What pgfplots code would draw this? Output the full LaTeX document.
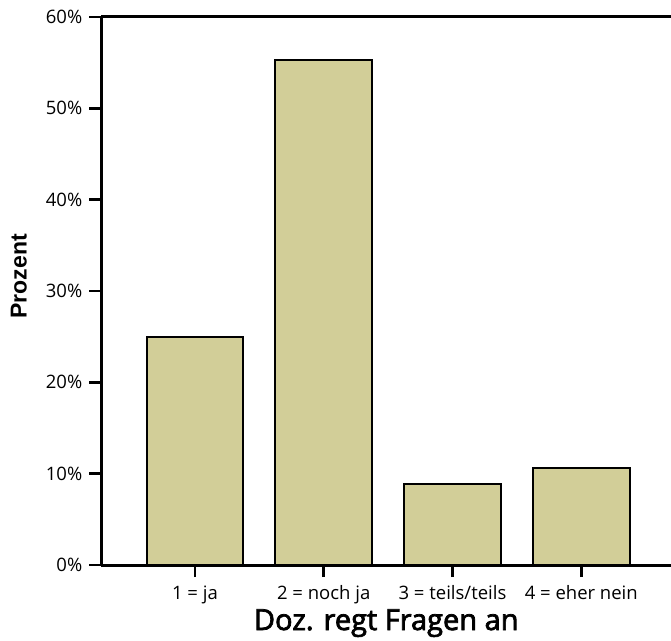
\documentclass[border=0pt]{standalone}
\usepackage{fontspec}
\setmainfont{Open Sans}
\newfontfamily\prozentfont{Liberation Sans}
\newfontfamily\xlabfont{Open Sans}[FakeBold=2.5]
\usepackage{pgfplots}
\pgfplotsset{compat=1.18}
\definecolor{barfill}{RGB}{210,206,152}
\begin{document}
\begin{tikzpicture}
\begin{axis}[
  name=ax,
  scale only axis,
  width=569.5pt, height=548pt,
  xmin=0.274, xmax=4.697,
  ymin=0, ymax=60,
  axis x line*=box,
  axis y line*=left,
  axis line style={line width=3pt},
  every tick/.style={black, line width=2.5pt},
  major tick length=12pt,
  tick align=outside,
  xtick={1,2,3,4},
  xticklabels={1 = ja, 2 = noch ja, 3 = teils/teils, 4 = eher nein},
  xtick pos=bottom,
  ytick={0,10,20,30,40,50,60},
  yticklabels={0\%,10\%,20\%,30\%,40\%,50\%,60\%},
  ytick pos=left,
  ticklabel style={font=\fontsize{18.5}{21}\selectfont},
  xticklabel style={anchor=base, inner sep=0pt, yshift=-22pt},
  yticklabel style={anchor=east, inner sep=0pt, xshift=-7pt},
  ylabel={Prozent},
  ylabel style={font=\prozentfont\bfseries\fontsize{23}{26}\selectfont, at={(axis description cs:-0.145,0.527)}, anchor=center},
  xlabel={Doz. regt Fragen an},
  xlabel style={font=\xlabfont\fontsize{29}{32}\selectfont, at={(axis description cs:0.5,0)}, anchor=base, yshift=-65pt},
  ybar, bar width=96.5pt,
]
\addplot[fill=barfill, draw=black, line width=2pt] coordinates {(1,25.0) (2,55.3) (3,8.9) (4,10.6)};
\end{axis}
\pgfresetboundingbox
\path[use as bounding box] ([xshift=-101.5pt,yshift=-75pt]ax.south west) rectangle ([yshift=17pt]ax.north east);
\end{tikzpicture}
\end{document}
